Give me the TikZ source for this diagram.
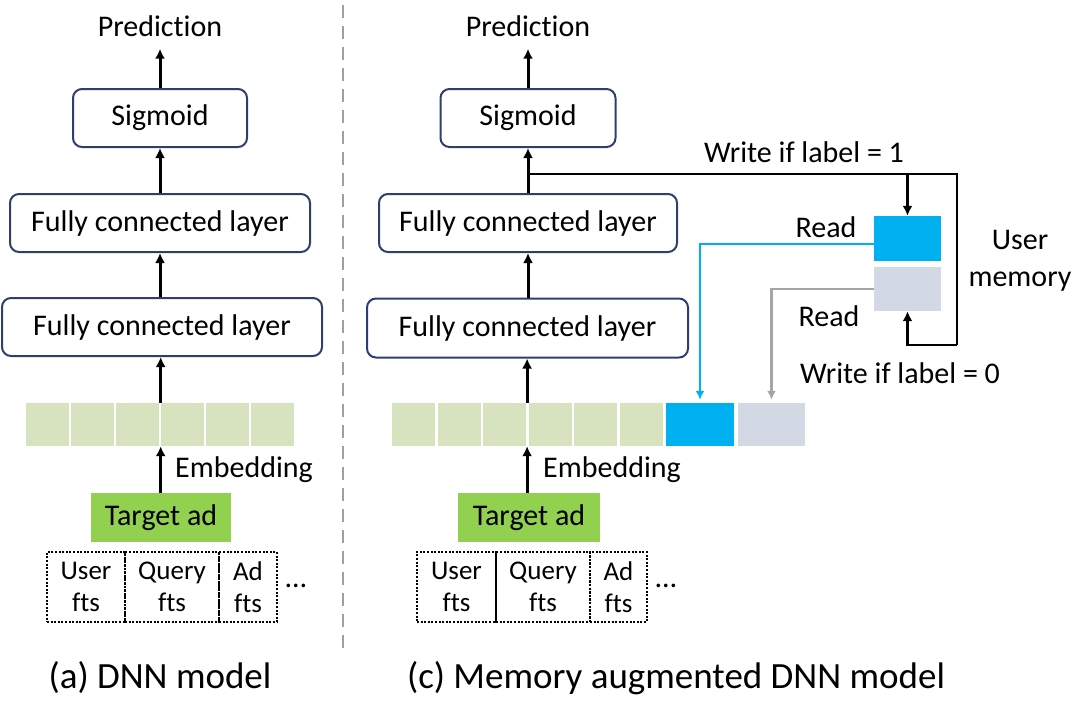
\documentclass[tikz,border=0pt]{standalone}
\usepackage{fontspec}
\setmainfont{Carlito}[Ligatures={NoCommon,NoContextual},Contextuals=NoAlternate]
\usetikzlibrary{arrows.meta,calc}
\definecolor{boxborder}{RGB}{47,62,110}
\definecolor{embgreen}{RGB}{215,227,190}
\definecolor{adgreen}{RGB}{146,208,80}
\definecolor{memblue}{RGB}{0,176,240}
\definecolor{memgray}{RGB}{210,216,228}
\definecolor{readgray}{RGB}{165,165,165}
\definecolor{sepgray}{RGB}{160,160,160}
\tikzset{
  lbl/.style={font=\fontsize{30}{36}\selectfont, inner sep=0pt},
  layerbox/.style={draw=boxborder, line width=2pt, rounded corners=9pt, fill=white, lbl},
  embcell/.style={fill=embgreen, minimum width=43pt, minimum height=43pt, inner sep=0pt},
  adbox/.style={fill=adgreen, minimum width=140pt, minimum height=49pt, lbl},
  ftbox/.style={draw, line width=2pt, dash pattern=on 2pt off 1.6pt, minimum height=70pt, inner sep=0pt,
     font=\fontsize{27}{32}\selectfont, align=center},
  arr/.style={line width=3pt, -{Latex[length=10pt,width=10pt]}},
  bluearr/.style={draw=memblue, line width=2.2pt, -{Latex[length=9pt,width=9pt]}},
  grayarr/.style={draw=readgray, line width=2.2pt, -{Latex[length=9pt,width=9pt]}},
  caption/.style={font=\fontsize{37}{44}\selectfont, inner sep=0pt},
}
\begin{document}
\begin{tikzpicture}[x=1pt,y=-1pt]
\useasboundingbox (0,0) rectangle (1080,702);

% separator
\draw[sepgray, line width=2pt, dash pattern=on 13pt off 8pt] (343,5) -- (343,648);

% ---------- (a) DNN model ----------
\node[lbl] (predA) at (160,26) {Predict\kern0pt ion};
\node[layerbox, minimum width=174pt, minimum height=58pt] (sigA) at (160,118) {Sigmoid};
\node[layerbox, minimum width=300pt, minimum height=58pt] (fc2A) at (160,223) {Fully connected layer};
\node[layerbox, minimum width=320pt, minimum height=58pt] (fc1A) at (162,327) {Fully connected layer};
\foreach \i in {1,...,6}{
  \node[embcell] (eA\i) at ({26+21.5+45*(\i-1)},424.5) {};
}
\node[adbox] (adA) at (161,517.5) {Target ad};
\node[lbl, anchor=west] (embA) at (175,470) {Embedding};
\node[ftbox, minimum width=78pt] (uA) at (86,587) {User\\fts};
\node[ftbox, minimum width=94pt] (qA) at (172,587) {Query\\fts};
\node[ftbox, minimum width=58pt] (dA) at (248,587) {Ad\\fts};
\node[lbl] (dotsA) at (296,586) {…};
\node[caption] (capA) at (160,678) {(a) DNN model};

\draw[arr, shorten >=12pt] (sigA.north) -- (predA.south);
\draw[arr] (fc2A.north) -- (sigA.south);
\draw[arr] (fc1A.north -| sigA.north) -- (fc2A.south -| sigA.north);
\draw[arr] (eA3.north east) ++(1.5pt,0) coordinate (tA) -- (tA |- fc1A.south);
\draw[arr] (adA.north -| tA) -- (tA |- eA1.south);

% ---------- (c) Memory augmented DNN model ----------
\node[lbl] (predC) at (528,26) {Predict\kern0pt ion};
\node[layerbox, minimum width=175pt, minimum height=58pt] (sigC) at (528,118) {Sigmoid};
\node[layerbox, minimum width=298pt, minimum height=58pt] (fc2C) at (528,223) {Fully connected layer};
\node[layerbox, minimum width=321pt, minimum height=59pt] (fc1C) at (527.5,328) {Fully connected layer};
\foreach \i in {1,...,6}{
  \node[embcell] (eC\i) at ({392+21.5+45.5*(\i-1)},424.5) {};
}
\node[fill=memblue, minimum width=68pt, minimum height=43pt, inner sep=0pt] (eCb) at (700,424.5) {};
\node[fill=memgray, minimum width=67pt, minimum height=43pt, inner sep=0pt] (eCg) at (771.5,424.5) {};
\node[adbox, minimum width=142pt] (adC) at (529,517.5) {Target ad};
\node[lbl, anchor=west] (embC) at (543,470) {Embedding};
\node[ftbox, minimum width=79pt] (uC) at (456.5,587) {User\\fts};
\node[ftbox, minimum width=94pt] (qC) at (543,587) {Query\\fts};
\node[ftbox, minimum width=57pt] (dC) at (618.5,587) {Ad\\fts};
\node[lbl] (dotsC) at (666,586) {…};
\node[caption] (capC) at (676,678) {(c) Memory augmented DNN model};

% user memory
\node[fill=memblue, minimum width=67pt, minimum height=45pt, inner sep=0pt] (mem1) at (907.5,238.5) {};
\node[fill=memgray, minimum width=67pt, minimum height=44pt, inner sep=0pt] (mem0) at (907.5,289) {};
\node[lbl, align=center, font=\fontsize{30}{37}\selectfont] (umem) at (1020,261) {User\\memory};
\node[lbl] (w1) at (804,152) {Write if label = 1};
\node[lbl] (r1) at (826,227) {Read};
\node[lbl] (r0) at (829,316) {Read};
\node[lbl] (w0) at (900,373) {Write if label = 0};

\coordinate (br) at (528,174);
\coordinate (wtop) at (957,174);
\coordinate (wbot) at (957,345);

\draw[arr, shorten >=12pt] (sigC.north) -- (predC.south);
\draw[arr] (fc2C.north) -- (sigC.south);
\draw[arr] (fc1C.north -| sigC.north) -- (fc2C.south -| sigC.north);
\draw[arr] (eC4.north west) ++(-1.2pt,0) coordinate (tC) -- (tC |- fc1C.south);
\draw[arr] (adC.north -| tC) -- (tC |- eC1.south);

\draw[line width=2.8pt] (br) -- (wtop) -- (wbot);
\draw[arr, line width=2.8pt] (wbot) -| (mem0.south);
\draw[arr, line width=2.8pt] (mem1.north |- br) -- (mem1.north);
\draw[bluearr, shorten >=3pt] ([yshift=-5.5pt]mem1.west) -| (eCb.north);
\draw[grayarr, shorten >=3pt] (mem0.west) -| (eCg.north);
\end{tikzpicture}
\end{document}
